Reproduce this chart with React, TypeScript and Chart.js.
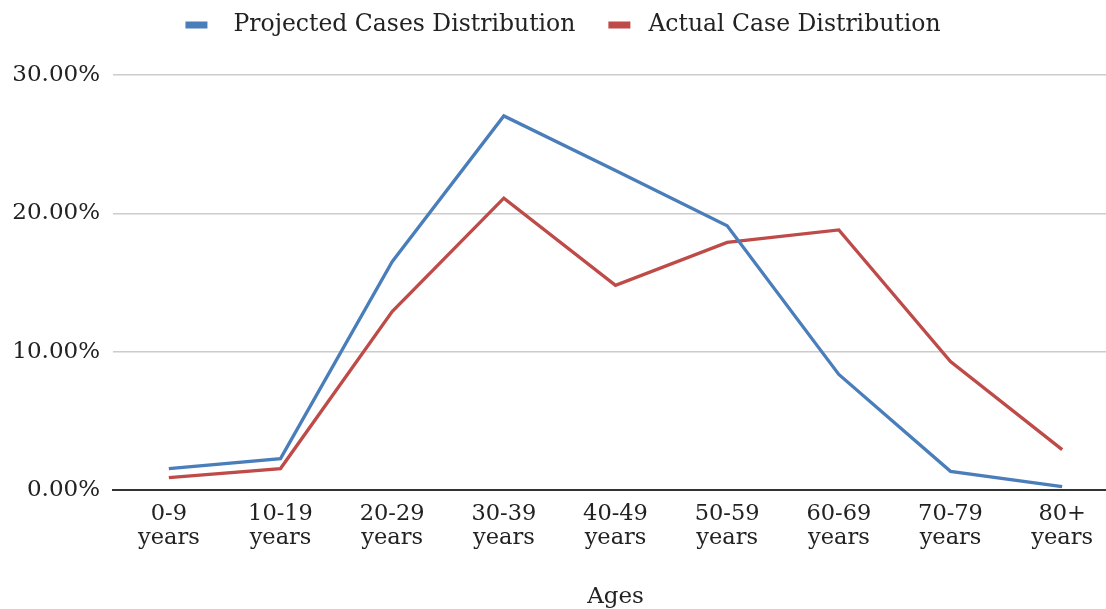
import React, { useEffect, useRef } from "react";
import { Chart, registerables } from "chart.js";

Chart.register(...registerables);

const categories: string[][] = [
  ["0-9", "years"],
  ["10-19", "years"],
  ["20-29", "years"],
  ["30-39", "years"],
  ["40-49", "years"],
  ["50-59", "years"],
  ["60-69", "years"],
  ["70-79", "years"],
  ["80+", "years"],
];

const projectedCases: number[] = [1.55, 2.27, 16.5, 27.04, 23.1, 19.1, 8.35, 1.35, 0.25];
const actualCases: number[] = [0.9, 1.55, 12.9, 21.1, 14.8, 17.9, 18.8, 9.28, 2.92];

const seriesNames = ["Projected Cases Distribution", "Actual Case Distribution"];
const yTicks: number[] = [0, 10, 20, 30];

const FONT = "'DejaVu Serif', serif";
const BLUE = "#4A7EBB";
const RED = "#BE4B48";

const legendPlugin = {
  id: "topLegend",
  afterDraw(chart: any) {
    const ctx = chart.ctx;
    const size = 23.5;
    const boxW = 22;
    const boxH = 7;
    const gaps = [26, 18];
    const itemGap = 33;
    const centerY = 25;
    ctx.save();
    ctx.font = `${size}px ${FONT}`;
    ctx.textBaseline = "middle";
    ctx.textAlign = "left";
    const items = chart.data.datasets.map((d: any, i: number) => ({
      label: d.label,
      color: d.borderColor,
      gap: gaps[i] ?? 18,
      w: ctx.measureText(d.label).width,
    }));
    const total =
      items.reduce((s: number, it: any) => s + boxW + it.gap + it.w, 0) + itemGap * (items.length - 1);
    let x = 563 - total / 2;
    for (const it of items) {
      ctx.fillStyle = it.color;
      ctx.fillRect(x, centerY - boxH / 2, boxW, boxH);
      x += boxW + it.gap;
      ctx.fillStyle = "#222";
      ctx.fillText(it.label, x, centerY);
      x += it.w + itemGap;
    }
    ctx.restore();
  },
};

export default function App() {
  const ref = useRef<HTMLCanvasElement | null>(null);

  useEffect(() => {
    if (!ref.current) return;
    const chart = new Chart(ref.current, {
      type: "line",
      data: {
        labels: categories,
        datasets: [
          {
            label: seriesNames[0],
            data: projectedCases,
            borderColor: BLUE,
            backgroundColor: BLUE,
            borderWidth: 3.3,
            pointRadius: 0,
            tension: 0,
          },
          {
            label: seriesNames[1],
            data: actualCases,
            borderColor: RED,
            backgroundColor: RED,
            borderWidth: 3.3,
            pointRadius: 0,
            tension: 0,
          },
        ],
      },
      plugins: [legendPlugin],
      options: {
        animation: false,
        responsive: false,
        maintainAspectRatio: false,
        layout: { padding: { top: 75, left: 0, right: 0, bottom: 0 } },
        plugins: {
          tooltip: { enabled: false },
          legend: { display: false },
        },
        scales: {
          x: {
            offset: true,
            grid: { display: false, drawTicks: false },
            border: { display: true, color: "#333", width: 2 },
            ticks: {
              color: "#222",
              font: { family: FONT, size: 22.5, lineHeight: 1.08 },
              padding: 12,
              maxRotation: 0,
              autoSkip: false,
            },
            title: {
              display: true,
              text: "Ages",
              color: "#222",
              font: { family: FONT, size: 23 },
              padding: { top: 27, bottom: -2 },
            },
            afterFit: (s: any) => {
              s.height = 119;
            },
          },
          y: {
            min: 0,
            max: 30,
            afterBuildTicks: (s: any) => {
              s.ticks = yTicks.map((v) => ({ value: v }));
            },
            grid: {
              drawTicks: false,
              color: (ctx: any) => (ctx.tick && ctx.tick.value === 0 ? "#333" : "#CCCCCC"),
              lineWidth: (ctx: any) => (ctx.tick && ctx.tick.value === 0 ? 2 : 1.5),
            },
            border: { display: false },
            ticks: {
              color: "#222",
              font: { family: FONT, size: 23 },
              padding: 13,
              callback: (v: any) => Number(v).toFixed(2) + "%",
            },
            afterFit: (s: any) => {
              s.width = 113;
            },
          },
        },
      },
    });
    return () => chart.destroy();
  }, []);

  return (
    <div style={{ position: "fixed", left: 0, top: 0, width: 1106, height: 609, overflow: "hidden", background: "#fff" }}>
      <canvas ref={ref} width={1118} height={609} style={{ display: "block" }} />
    </div>
  );
}
